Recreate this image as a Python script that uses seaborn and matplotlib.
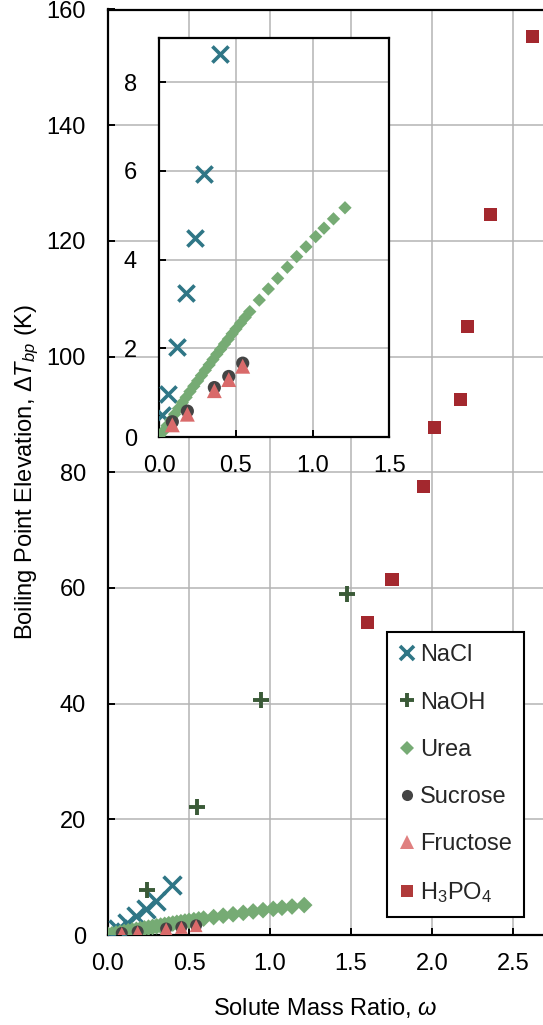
import matplotlib
matplotlib.use("Agg")
import matplotlib.pyplot as plt
from matplotlib.lines import Line2D
import seaborn as sns

sns.set_theme(style="white")
plt.rcParams['font.family'] = ['Liberation Sans', 'DejaVu Sans']
plt.rcParams['mathtext.fontset'] = 'custom'
plt.rcParams['mathtext.rm'] = 'Liberation Sans'
plt.rcParams['mathtext.it'] = 'Liberation Sans:italic'
plt.rcParams['mathtext.bf'] = 'Liberation Sans:bold'

# ---------------- data ----------------
nacl_x = [0.015, 0.059, 0.117, 0.174, 0.233, 0.294, 0.396]
nacl_y = [0.50, 0.97, 2.04, 3.24, 4.49, 5.93, 8.64]

naoh_x = [0.239, 0.548, 0.944, 1.477]
naoh_y = [7.8, 22.2, 40.7, 59.0]

urea_x = [0.0, 0.025, 0.05, 0.075, 0.1, 0.125, 0.15, 0.175, 0.2, 0.225, 0.25,
          0.275, 0.3, 0.325, 0.35, 0.375, 0.4, 0.425, 0.45, 0.475, 0.5, 0.53,
          0.56, 0.59, 0.652, 0.711, 0.772, 0.835, 0.896, 0.957, 1.02, 1.074,
          1.136, 1.211]
urea_y = [0.03, 0.13, 0.26, 0.39, 0.52, 0.65, 0.78, 0.90, 1.03, 1.15, 1.27,
          1.39, 1.51, 1.63, 1.75, 1.87, 1.98, 2.10, 2.21, 2.33, 2.44, 2.57,
          2.70, 2.83, 3.09, 3.34, 3.58, 3.83, 4.07, 4.29, 4.52, 4.71,
          4.92, 5.17]

sucrose_x = [0.085, 0.183, 0.359, 0.453, 0.544]
sucrose_y = [0.35, 0.59, 1.12, 1.37, 1.67]

fructose_x = [0.085, 0.183, 0.359, 0.453, 0.544]
fructose_y = [0.28, 0.52, 1.05, 1.30, 1.60]

h3po4_x = [1.603, 1.753, 1.946, 2.017, 2.173, 2.22, 2.364, 2.623]
h3po4_y = [54.0, 61.5, 77.6, 87.8, 92.6, 105.2, 124.6, 155.4]

labels = ["NaCl", "NaOH", "Urea", "Sucrose", "Fructose", "H$_3$PO$_4$"]
main_xticks = [0.0, 0.5, 1.0, 1.5, 2.0, 2.5]
main_yticks = [0, 20, 40, 60, 80, 100, 120, 140, 160]
inset_xticks = [0.0, 0.5, 1.0, 1.5]
inset_yticks = [0, 2, 4, 6, 8]

# ---------------- styles ----------------
c_nacl = "#2f7686"
c_naoh = "#3a5a37"
c_urea = "#76ab74"
c_sucrose = "#444444"
c_fructose = "#d96a6a"
c_h3po4 = "#a3282e"
grid_c = "#b4b4b4"

fig = plt.figure(figsize=(5.43, 10.25), dpi=100)
W, H = 543, 1025
ax = fig.add_axes([108 / W, (H - 935) / H, (543 - 108) / W, (935 - 9.5) / H])
axi = fig.add_axes([159.3 / W, (H - 437.3) / H, 230 / W, 399.6 / H])

# main chart
sns.scatterplot(x=nacl_x, y=nacl_y, ax=ax, marker="x", s=165,
                color=c_nacl, linewidth=2.6, zorder=3)
sns.scatterplot(x=naoh_x, y=naoh_y, ax=ax, marker="+", s=140,
                color=c_naoh, linewidth=2.8, zorder=3)
sns.scatterplot(x=urea_x, y=urea_y, ax=ax, marker="D", s=72,
                color=c_urea, edgecolor="none", linewidth=0, zorder=4)
sns.scatterplot(x=sucrose_x, y=sucrose_y, ax=ax, marker="o", s=75,
                color=c_sucrose, edgecolor="none", linewidth=0, zorder=5)
sns.scatterplot(x=fructose_x, y=fructose_y, ax=ax, marker="^", s=85,
                color=c_fructose, edgecolor="none", linewidth=0, zorder=6)
sns.scatterplot(x=h3po4_x, y=h3po4_y, ax=ax, marker="s", s=88,
                color=c_h3po4, edgecolor="none", linewidth=0, zorder=6)

# inset (NaCl, urea, sugars only)
sns.scatterplot(x=nacl_x, y=nacl_y, ax=axi, marker="x", s=135,
                color=c_nacl, linewidth=2.6, zorder=3)
sns.scatterplot(x=urea_x, y=urea_y, ax=axi, marker="D", s=46,
                color=c_urea, edgecolor="none", linewidth=0, zorder=4)
sns.scatterplot(x=sucrose_x, y=sucrose_y, ax=axi, marker="o", s=90,
                color=c_sucrose, edgecolor="none", linewidth=0, zorder=5)
sns.scatterplot(x=fructose_x, y=fructose_y, ax=axi, marker="^", s=115,
                color=c_fructose, edgecolor="none", linewidth=0, zorder=6)

for a, xt, yt, xl, yl in [(ax, main_xticks, main_yticks, (0, 435 / 162), (0, 160)),
                          (axi, inset_xticks, inset_yticks, (0, 1.5), (0, 9))]:
    a.set_xlim(*xl)
    a.set_ylim(*yl)
    a.set_xticks(xt)
    a.set_yticks(yt)
    a.set_xticklabels([f"{v:.1f}" for v in xt])
    a.set_yticklabels([f"{v:d}" for v in yt])
    a.grid(True, color=grid_c, linewidth=1.1)
    a.set_axisbelow(True)
    a.tick_params(direction="in", length=5, width=1.4, color="black",
                  labelsize=17, labelcolor="black",
                  bottom=True, left=True)
    a.tick_params(axis="y", pad=16)
    a.tick_params(axis="x", pad=13)
    for side in ["left", "bottom", "top", "right"]:
        a.spines[side].set_color("black")
        a.spines[side].set_linewidth(1.6)
    a.set_facecolor("white")
    a.set_xlabel("")
    a.set_ylabel("")

ax.spines["right"].set_visible(False)

ax.set_xlabel("Solute Mass Ratio, $\\omega$", fontsize=17, color="black",
              labelpad=15)
ax.set_ylabel("Boiling Point Elevation, $\\Delta T_{bp}$ (K)", fontsize=17,
              color="black", labelpad=4)

handles = [
    Line2D([], [], ls="none", marker="x", ms=10.5, mew=2.6, color=c_nacl),
    Line2D([], [], ls="none", marker="+", ms=10.5, mew=2.8, color=c_naoh),
    Line2D([], [], ls="none", marker="D", ms=7, mew=0, color=c_urea),
    Line2D([], [], ls="none", marker="o", ms=8, mew=0, color=c_sucrose),
    Line2D([], [], ls="none", marker="^", ms=10, mew=0, color="#e08080"),
    Line2D([], [], ls="none", marker="s", ms=8, mew=0, color="#b03a3a"),
]
leg = ax.legend(handles, labels, loc="lower left",
                bbox_to_anchor=(387.3 / W, (H - 917.3) / H),
                bbox_transform=fig.transFigure, fontsize=17, frameon=True,
                fancybox=False, framealpha=1, edgecolor="black",
                handlelength=0.7, handletextpad=0.2, labelspacing=1.07,
                borderpad=0.5, borderaxespad=0)
leg.get_frame().set_linewidth(1.5)

fig.savefig("out.png", dpi=100)
